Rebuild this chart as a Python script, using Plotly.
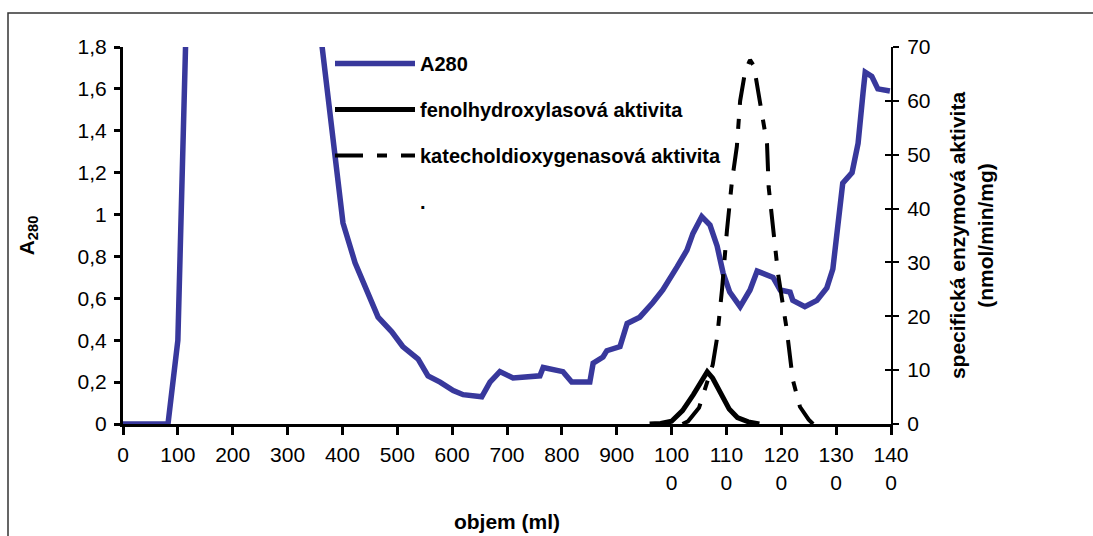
import plotly.graph_objects as go

# Elution volume (ml) and absorbance at 280 nm
a280_volume = [0, 40, 82, 100, 107, 114, 125, 200, 300, 340, 363, 398, 401, 423, 445, 465,
               490, 510, 538, 556, 578, 602, 620, 654, 669, 687, 711, 760, 766, 802, 818,
               851, 857, 875, 882, 906, 919, 942, 966, 984, 1010, 1028, 1039, 1055, 1070,
               1083, 1094, 1106, 1125, 1143, 1156, 1185, 1198, 1216, 1221, 1243, 1265,
               1283, 1294, 1303, 1312, 1329, 1340, 1349, 1353, 1365, 1376, 1398]
a280_value = [0, 0, 0, 0.40, 1.07, 1.80, 2.60, 3.50, 3.00, 2.30, 1.80, 1.07, 0.96, 0.77,
              0.64, 0.51, 0.44, 0.37, 0.31, 0.23, 0.20, 0.16, 0.14, 0.13, 0.20, 0.25, 0.22,
              0.23, 0.27, 0.25, 0.20, 0.20, 0.29, 0.32, 0.35, 0.37, 0.48, 0.51, 0.58, 0.64,
              0.75, 0.83, 0.91, 0.99, 0.95, 0.85, 0.72, 0.63, 0.56, 0.64, 0.73, 0.70, 0.64,
              0.63, 0.59, 0.56, 0.59, 0.65, 0.74, 0.93, 1.15, 1.20, 1.34, 1.58, 1.68, 1.66,
              1.60, 1.59]

# Specific enzyme activity (nmol/min/mg)
phenol_volume = [960, 980, 1000, 1020, 1040, 1055, 1065, 1075, 1090, 1105, 1120, 1140, 1160]
phenol_activity = [0, 0.1, 0.5, 2.5, 5.5, 8.0, 9.7, 8.5, 5.5, 2.8, 1.2, 0.4, 0]

catechol_volume = [1020, 1030, 1050, 1065, 1075, 1083, 1092, 1101, 1110, 1119, 1125, 1134,
                   1143, 1150, 1165, 1174, 1177, 1183, 1194, 1210, 1221, 1234, 1250, 1258]
catechol_activity = [0, 0.5, 3.0, 7.5, 11.0, 16.0, 25.0, 36.0, 45.0, 51.5, 60.0, 65.4,
                     67.6, 66.5, 58.0, 52.0, 44.0, 38.0, 28.0, 17.5, 8.2, 3.2, 0.8, 0]

# Tick labels
x_ticks = [0, 100, 200, 300, 400, 500, 600, 700, 800, 900, 1000, 1100, 1200, 1300, 1400]
x_tick_labels = ["0", "100", "200", "300", "400", "500", "600", "700", "800", "900",
                 "100<br>0", "110<br>0", "120<br>0", "130<br>0", "140<br>0"]
a280_ticks = [0, 0.2, 0.4, 0.6, 0.8, 1.0, 1.2, 1.4, 1.6, 1.8]
a280_tick_labels = ["0", "0,2", "0,4", "0,6", "0,8", "1", "1,2", "1,4", "1,6", "1,8"]
activity_ticks = [0, 10, 20, 30, 40, 50, 60, 70]
activity_tick_labels = ["0", "10", "20", "30", "40", "50", "60", "70"]

FONT = "Arial, Liberation Sans, sans-serif"
W, H = 1093, 536
L, R, T, B = 123, 202, 47, 112

fig = go.Figure()
fig.add_trace(go.Scatter(
    x=a280_volume, y=a280_value, mode="lines", name="A280",
    line=dict(color="#38389c", width=5.5), legendgroup="a", yaxis="y"))
fig.add_trace(go.Scatter(
    x=phenol_volume, y=phenol_activity, mode="lines", name="fenolhydroxylasová aktivita",
    line=dict(color="black", width=5), legendgroup="b", yaxis="y2"))
fig.add_trace(go.Scatter(
    x=catechol_volume, y=catechol_activity, mode="lines",
    name="katecholdioxygenasová aktivita",
    line=dict(color="black", width=4, dash="28px,14px,10px,14px"),
    legendgroup="c", yaxis="y2"))
fig.add_trace(go.Scatter(
    x=[None], y=[None], mode="lines", name=".",
    line=dict(color="rgba(0,0,0,0)", width=0), legendgroup="d", yaxis="y3"))

pw, ph = W - L - R, H - T - B


def px_x(p):
    return (p - L) / pw


def px_y(p):
    return (H - B - p) / ph


tick_font = dict(family=FONT, size=21, color="black")
title_font = dict(family=FONT, size=21, color="black", weight="bold")

fig.update_layout(
    width=W, height=H,
    margin=dict(l=L, r=R, t=T, b=B, autoexpand=False),
    paper_bgcolor="white", plot_bgcolor="white",
    showlegend=True,
    legend=dict(
        x=px_x(330), y=px_y(44), xanchor="left", yanchor="top",
        bgcolor="rgba(0,0,0,0)", borderwidth=0,
        font=dict(family=FONT, size=20, color="black", weight="bold"),
        itemwidth=80, tracegroupgap=17, traceorder="grouped",
    ),
    xaxis=dict(
        range=[0, 1400], tickvals=x_ticks, ticktext=x_tick_labels,
        showgrid=False, zeroline=False, automargin=False,
        showline=True, linecolor="black", linewidth=3,
        ticks="outside", ticklen=8, tickwidth=3, tickcolor="black",
        tickfont=tick_font, ticklabelstandoff=2,
        title=dict(text="objem (ml)", font=title_font, standoff=22),
    ),
    yaxis=dict(
        range=[0, 1.8], tickvals=a280_ticks, ticktext=a280_tick_labels,
        showgrid=False, zeroline=False, automargin=False,
        showline=True, linecolor="black", linewidth=3,
        ticks="outside", ticklen=6, tickwidth=3, tickcolor="black",
        tickfont=tick_font, ticklabelstandoff=3,
        title=dict(text="A<sub>280</sub>", font=title_font, standoff=38),
    ),
    yaxis2=dict(
        range=[0, 70], tickvals=activity_ticks, ticktext=activity_tick_labels,
        overlaying="y", side="right", anchor="x", automargin=False,
        showgrid=False, zeroline=False,
        showline=True, linecolor="black", linewidth=2,
        ticks="outside", ticklen=6, tickwidth=2, tickcolor="black",
        tickfont=tick_font, ticklabelstandoff=4,
        title=dict(text="specifická enzymová aktivita<br>(nmol/min/mg)",
                   font=title_font, standoff=21),
    ),
    yaxis3=dict(
        range=[0, 70], tickvals=activity_ticks,
        overlaying="y", side="right", anchor="x", automargin=False,
        showgrid=False, zeroline=False, showline=False, showticklabels=False,
        ticks="inside", ticklen=6, tickwidth=2, tickcolor="black",
    ),
    shapes=[dict(
        type="rect", xref="paper", yref="paper",
        x0=px_x(8), x1=px_x(W + 10), y0=px_y(H + 10), y1=px_y(13),
        line=dict(color="#333333", width=1.5), fillcolor="rgba(0,0,0,0)", layer="below",
    )],
)

fig.write_html("out.html")
